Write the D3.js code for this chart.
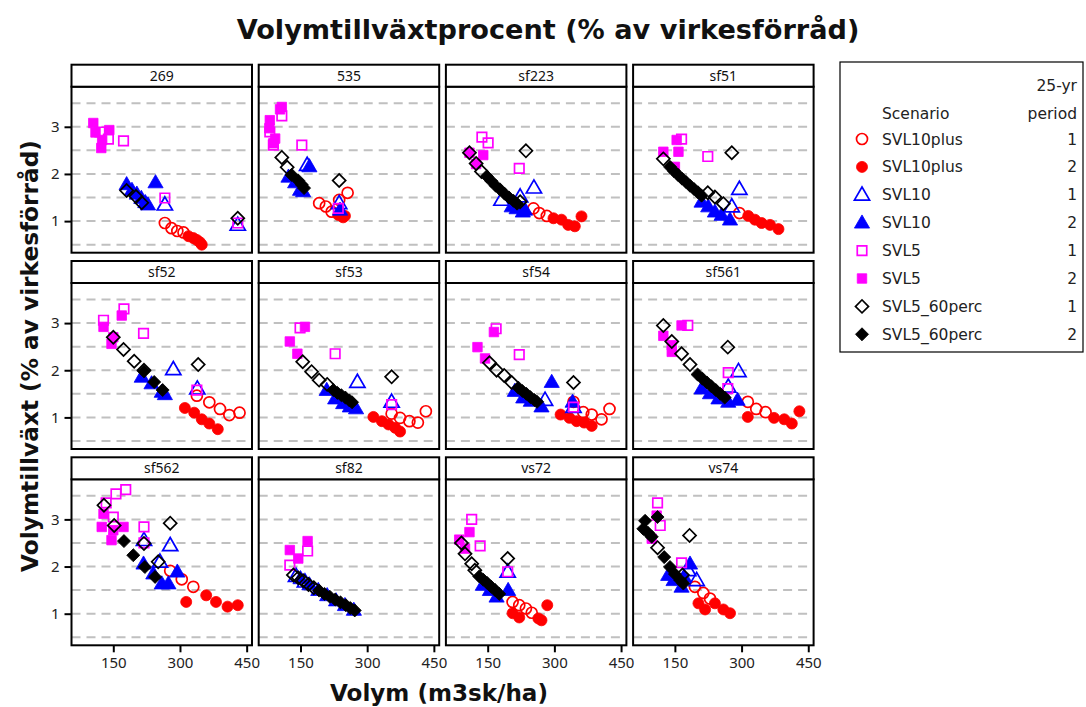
<!DOCTYPE html>
<html><head><meta charset="utf-8">
<script src="https://cdn.jsdelivr.net/npm/d3@7"></script>
<style>body{margin:0;background:#fff}</style></head>
<body><svg id="c" width="1086" height="707"></svg>
<script>
const panels = ["269","535","sf223","sf51","sf52","sf53","sf54","sf561","sf562","sf82","vs72","vs74"];
const seriesNames = ["SVL10plus","SVL10plus","SVL10","SVL10","SVL5","SVL5","SVL5_60perc","SVL5_60perc"];
const seriesPeriods = ["1","2","1","2","1","2","1","2"];
const seriesColors = ["#ff0000","#ff0000","#0000ff","#0000ff","#ff00ff","#ff00ff","#000000","#000000"];
const seriesShapes = ["circle","circle","triangle","triangle","square","square","diamond","diamond"];
const seriesFilled = [false,true,false,true,false,true,false,true];
const xTicks = [150,300,450];
const yTicks = [1,2,3];
const yGrid = [0.5,1,1.5,2,2.5,3,3.5];

// rows: [seriesIndex, volym, tillväxt]
const d269 = [
 [0,266,0.96],[0,281,0.85],[0,294,0.79],[0,308,0.76],
 [1,319,0.68],[1,330,0.64],[1,338,0.60],[1,345,0.55],[1,349,0.50],
 [2,266,1.35],[2,430,0.92],
 [3,180,1.78],[3,192,1.66],[3,203,1.58],[3,213,1.49],[3,222,1.40],[3,228,1.35],[3,245,1.82],
 [4,120,2.89],[4,139,2.74],[4,173,2.70],[4,266,1.49],[4,430,0.96],
 [5,105,3.08],[5,110,2.88],[5,125,2.72],[5,123,2.55],[5,141,2.93],
 [6,180,1.65],[6,201,1.52],[6,214,1.39],[6,430,1.06]
];
const d535 = [
 [0,192,1.38],[0,207,1.31],[0,220,1.20],[0,237,1.45],[0,256,1.60],
 [1,235,1.13],[1,246,1.08],[1,250,1.11],
 [2,165,2.19],[2,237,1.38],
 [3,123,1.94],[3,138,1.82],[3,149,1.66],[3,156,1.63],[3,170,2.16],[3,239,1.24],
 [4,108,3.23],[4,81,2.89],[4,89,2.61],[4,153,2.61],[4,235,1.27],
 [5,104,3.37],[5,108,3.42],[5,81,3.14],[5,80,2.97],[5,93,2.75],[5,89,2.65],
 [6,108,2.35],[6,120,2.14],[6,237,1.86],
 [7,130,1.98],[7,145,1.86],[7,153,1.77],[7,158,1.70]
];
const dsf223 = [
 [0,253,1.27],[0,266,1.17],[0,283,1.11],
 [1,298,1.06],[1,316,1.03],[1,331,0.92],[1,346,0.89],[1,361,1.10],
 [2,254,1.71],[2,181,1.45],[2,223,1.52],
 [3,204,1.31],[3,215,1.27],[3,229,1.20],[3,234,1.24],
 [4,137,2.78],[4,151,2.66],[4,221,2.12],
 [5,109,2.45],[5,124,2.21],[5,140,2.40],
 [6,109,2.45],[6,124,2.22],[6,136,2.05],[6,236,2.49],[6,223,1.41],
 [7,148,1.95],[7,158,1.85],[7,168,1.75],[7,178,1.67],[7,188,1.58],[7,198,1.50],[7,208,1.43],[7,216,1.37]
];
const dsf51 = [
 [0,295,1.17],
 [1,315,1.11],[1,330,1.03],[1,345,0.96],[1,364,0.92],[1,383,0.83],
 [2,295,1.68],[2,278,1.31],
 [3,210,1.41],[3,225,1.31],[3,240,1.20],[3,255,1.13],[3,274,1.03],
 [4,165,2.74],[4,224,2.37],
 [5,124,2.47],[5,154,2.72],[5,158,2.47],[5,150,2.15],
 [6,124,2.32],[6,278,2.45],[6,224,1.60],[6,240,1.51],[6,259,1.37],
 [7,139,2.15],[7,148,2.06],[7,157,1.98],[7,166,1.90],[7,175,1.83],[7,184,1.75],[7,193,1.68],[7,202,1.61],[7,210,1.54]
];
const dsf52 = [
 [0,338,1.46],[0,366,1.32],[0,390,1.18],[0,411,1.05],[0,434,1.10],
 [1,311,1.20],[1,332,1.10],[1,349,0.96],[1,366,0.87],[1,385,0.75],
 [2,285,2.02],[2,339,1.61],
 [3,214,1.86],[3,236,1.72],[3,259,1.54],[3,266,1.49],
 [4,128,3.06],[4,174,3.30],[4,218,2.78],[4,338,1.58],
 [5,128,2.92],[5,169,3.16],[5,146,2.56],[5,150,2.70],
 [6,150,2.70],[6,173,2.44],[6,197,2.19],[6,219,2.00],[6,341,2.12],
 [7,219,1.98],[7,242,1.75],[7,261,1.58]
];
const dsf53 = [
 [0,355,1.08],[0,374,0.99],[0,395,0.92],[0,414,0.89],[0,432,1.13],
 [1,314,1.01],[1,333,0.92],[1,348,0.85],[1,363,0.78],[1,374,0.70],
 [2,278,1.75],[2,355,1.33],
 [3,209,1.58],[3,228,1.40],[3,246,1.30],[3,261,1.23],[3,275,1.19],
 [4,149,2.90],[4,228,2.35],[4,355,1.27],
 [5,160,2.92],[5,126,2.61],[5,143,2.35],
 [6,155,2.18],[6,175,1.97],[6,192,1.79],[6,210,1.70],[6,355,1.86],
 [7,224,1.58],[7,233,1.52],[7,242,1.47],[7,251,1.42],[7,260,1.36],[7,266,1.32]
];
const dsf54 = [
 [0,343,1.33],[0,365,1.11],[0,384,1.06],[0,406,0.96],[0,424,1.18],
 [1,314,1.06],[1,334,0.99],[1,350,0.92],[1,367,0.89],[1,384,0.82],
 [2,279,1.37],[2,343,1.22],
 [3,211,1.56],[3,230,1.42],[3,247,1.35],[3,271,1.23],[3,294,1.75],[3,341,1.33],
 [4,169,2.88],[4,221,2.33],[4,343,1.22],
 [5,164,2.81],[5,127,2.49],[5,144,2.25],
 [6,154,2.16],[6,170,2.00],[6,187,1.89],[6,204,1.74],[6,343,1.74],
 [7,219,1.63],[7,228,1.56],[7,237,1.50],[7,246,1.43],[7,255,1.37],[7,261,1.33]
];
const dsf561 = [
 [0,314,1.33],[0,333,1.18],[0,354,1.11],
 [1,314,1.01],[1,373,0.99],[1,396,0.96],[1,413,0.87],[1,430,1.13],
 [2,293,1.98],[2,270,1.65],
 [3,210,1.61],[3,229,1.51],[3,248,1.40],[3,270,1.33],[3,291,1.37],
 [4,179,2.95],[4,270,1.95],[4,269,1.61],
 [5,124,2.73],[5,143,2.53],[5,143,2.39],[5,165,2.95],
 [6,124,2.95],[6,143,2.61],[6,165,2.35],[6,184,2.12],[6,269,2.49],
 [7,201,1.91],[7,212,1.82],[7,222,1.74],[7,232,1.66],[7,242,1.58],[7,252,1.50],[7,262,1.42]
];
const dsf562 = [
 [0,278,1.91],[0,304,1.73],[0,330,1.57],
 [1,314,1.25],[1,359,1.39],[1,381,1.25],[1,407,1.15],[1,430,1.18],
 [2,219,2.56],[2,278,2.45],[2,255,2.10],
 [3,218,2.06],[3,240,1.85],[3,259,1.64],[3,274,1.64],[3,294,1.89],
 [4,134,3.35],[4,156,3.54],[4,178,3.63],[4,150,3.05],[4,219,2.84],[4,219,2.50],
 [5,124,2.84],[5,128,3.12],[5,150,2.77],[5,173,2.84],[5,146,2.56],
 [6,129,3.30],[6,152,2.87],[6,219,2.49],[6,251,2.10],[6,278,2.92],
 [7,174,2.54],[7,195,2.24],[7,221,1.99],[7,244,1.78]
];
const dsf82 = [
 [2,140,1.80],[2,160,1.68],
 [3,150,1.75],[3,170,1.62],[3,190,1.50],[3,210,1.39],[3,230,1.28],[3,250,1.18],[3,270,1.08],
 [4,126,2.03],[4,166,2.33],
 [5,126,2.35],[5,145,2.17],[5,166,2.54],
 [6,134,1.82],[6,145,1.76],[6,156,1.70],[6,168,1.62],[6,180,1.55],
 [7,192,1.49],[7,204,1.42],[7,216,1.36],[7,228,1.30],[7,240,1.24],[7,252,1.18],[7,262,1.12],[7,272,1.07]
];
const dvs72 = [
 [0,206,1.25],[0,221,1.18],[0,236,1.11],[0,249,1.02],
 [1,206,1.01],[1,221,0.92],[1,264,0.90],[1,271,0.86],[1,284,1.18],
 [2,195,1.89],
 [3,139,1.61],[3,155,1.50],[3,170,1.36],[3,196,1.50],
 [4,114,3.00],[4,133,2.44],[4,195,1.89],
 [5,109,2.73],[5,86,2.57],[5,99,2.38],
 [6,91,2.50],[6,99,2.27],[6,114,2.06],[6,121,1.92],[6,195,2.17],
 [7,131,1.79],[7,140,1.72],[7,149,1.65],[7,158,1.57],[7,167,1.50],[7,176,1.42]
];
const dvs74 = [
 [0,195,1.57],[0,214,1.44],[0,229,1.32],
 [1,203,1.22],[1,218,1.09],[1,240,1.22],[1,259,1.09],[1,274,1.01],
 [2,180,1.92],[2,199,1.71],
 [3,135,1.82],[3,147,1.71],[3,165,1.57],[3,184,2.06],[3,171,1.78],
 [4,111,3.35],[4,117,2.87],[4,165,2.08],
 [5,98,2.59],[5,109,3.08],
 [6,111,2.40],[6,183,2.66],[6,167,1.82],
 [7,83,2.97],[7,79,2.80],[7,90,2.71],[7,98,2.63],[7,111,3.05],[7,126,2.20],[7,139,1.99],[7,150,1.84],[7,162,1.71],[7,169,1.64]
];
const panelData = [d269,d535,dsf223,dsf51,dsf52,dsf53,dsf54,dsf561,dsf562,dsf82,dvs72,dvs74];

const svg = d3.select("#c");
const colLeft0 = 71.5, colPitch = 187.2, plotW = 180.5;
const rowTop0 = 64.7, rowPitch = 196.3, stripH = 22, plotH = 166;
const x = d3.scaleLinear().domain([56, 462]).range([0, plotW]);
const y = d3.scaleLinear().domain([0.33, 3.85]).range([plotH, 0]);
const symType = {circle: d3.symbolCircle, triangle: d3.symbolTriangle, square: d3.symbolSquare, diamond: d3.symbolSquare};
const symSize = {circle: 95, triangle: 100, square: 90, diamond: 85};
const tickFont = "'Noto Sans', sans-serif";

function drawMarker(g, s, cx, cy) {
  const sh = seriesShapes[s];
  let tr = `translate(${cx},${cy})`;
  if (sh === "triangle") tr += " translate(0,1)";
  if (sh === "diamond") tr += " rotate(45)";
  g.append("path")
    .attr("d", d3.symbol().type(symType[sh]).size(symSize[sh])())
    .attr("transform", tr)
    .attr("fill", seriesFilled[s] ? seriesColors[s] : "none")
    .attr("stroke", seriesColors[s])
    .attr("stroke-width", seriesFilled[s] ? 0.8 : 1.7);
}

panels.forEach((name, i) => {
  const col = i % 4, row = Math.floor(i / 4);
  const px = colLeft0 + col * colPitch;
  const sy = rowTop0 + row * rowPitch;
  const g = svg.append("g").attr("transform", `translate(${px},${sy + stripH})`);
  g.selectAll("line.grid").data(yGrid).join("line")
    .attr("x1", 0).attr("x2", plotW)
    .attr("y1", d => y(d)).attr("y2", d => y(d))
    .attr("stroke", "#c0c0c0").attr("stroke-width", 2).attr("stroke-dasharray", "9,6");
  const pg = g.append("g");
  const rows = panelData[i].slice().sort((a, b) => a[0] - b[0]);
  rows.forEach(r => drawMarker(pg, r[0], x(r[1]), y(r[2])));
  g.append("rect").attr("x", 0).attr("y", 0).attr("width", plotW).attr("height", plotH)
    .attr("fill", "none").attr("stroke", "#000").attr("stroke-width", 2);
  const sg = svg.append("g").attr("transform", `translate(${px},${sy})`);
  sg.append("rect").attr("width", plotW).attr("height", stripH)
    .attr("fill", "#fff").attr("stroke", "#000").attr("stroke-width", 2);
  sg.append("text").attr("x", plotW / 2).attr("y", stripH / 2 + 5)
    .attr("text-anchor", "middle").attr("font-family", tickFont).attr("font-size", 14)
    .attr("fill", "#111").text(name);
  if (col === 0) {
    const ax = g.append("g").call(d3.axisLeft(y).tickValues(yTicks).tickSize(7).tickPadding(5).tickFormat(d3.format("d")));
    ax.select(".domain").remove();
    ax.selectAll("line").attr("stroke", "#000").attr("stroke-width", 2);
    ax.selectAll("text").attr("font-family", tickFont).attr("font-size", 15).attr("fill", "#222");
  }
  if (row === 2) {
    const ax = g.append("g").attr("transform", `translate(0,${plotH})`)
      .call(d3.axisBottom(x).tickValues(xTicks).tickSize(7).tickPadding(5).tickFormat(d3.format("d")));
    ax.select(".domain").remove();
    ax.selectAll("line").attr("stroke", "#000").attr("stroke-width", 2);
    ax.selectAll("text").attr("font-family", tickFont).attr("font-size", 15).attr("fill", "#222");
  }
});

function fitText(t, target) {
  const w = t.node().getComputedTextLength();
  const fs = parseFloat(t.attr("font-size"));
  t.attr("font-size", fs * target / w);
}
const titleFont = "'DejaVu Sans', sans-serif";
const title = svg.append("text").attr("x", 548).attr("y", 39).attr("text-anchor", "middle")
  .attr("font-family", titleFont).attr("font-weight", "bold").attr("font-size", 24)
  .attr("fill", "#111").text("Volymtillväxtprocent (% av virkesförråd)");
fitText(title, 623);
const xt = svg.append("text").attr("x", 439).attr("y", 701).attr("text-anchor", "middle")
  .attr("font-family", titleFont).attr("font-weight", "bold").attr("font-size", 20)
  .attr("fill", "#111").text("Volym (m3sk/ha)");
fitText(xt, 218);
const yt = svg.append("text").attr("transform", "translate(38,356) rotate(-90)").attr("text-anchor", "middle")
  .attr("font-family", titleFont).attr("font-weight", "bold").attr("font-size", 20)
  .attr("fill", "#111").text("Volymtillväxt (% av virkesförråd)");
fitText(yt, 432);

const lg = svg.append("g");
lg.append("rect").attr("x", 840).attr("y", 62).attr("width", 243).attr("height", 290)
  .attr("fill", "#fff").attr("stroke", "#000").attr("stroke-width", 1.2);
const lf = "'DejaVu Sans', sans-serif";
lg.append("text").attr("x", 1077).attr("y", 91).attr("text-anchor", "end").attr("font-family", lf).attr("font-size", 15.5).attr("fill", "#222").text("25-yr");
lg.append("text").attr("x", 882).attr("y", 119).attr("font-family", lf).attr("font-size", 15.5).attr("fill", "#222").text("Scenario");
lg.append("text").attr("x", 1077).attr("y", 119).attr("text-anchor", "end").attr("font-family", lf).attr("font-size", 15.5).attr("fill", "#222").text("period");
seriesNames.forEach((n, k) => {
  const ly = 139 + k * 27.9;
  drawMarker(lg, k, 862, ly);
  lg.append("text").attr("x", 882).attr("y", ly + 5.5).attr("font-family", lf).attr("font-size", 15.5).attr("fill", "#222").text(n);
  lg.append("text").attr("x", 1077).attr("y", ly + 5.5).attr("text-anchor", "end").attr("font-family", lf).attr("font-size", 15.5).attr("fill", "#222").text(seriesPeriods[k]);
});
</script></body></html>
